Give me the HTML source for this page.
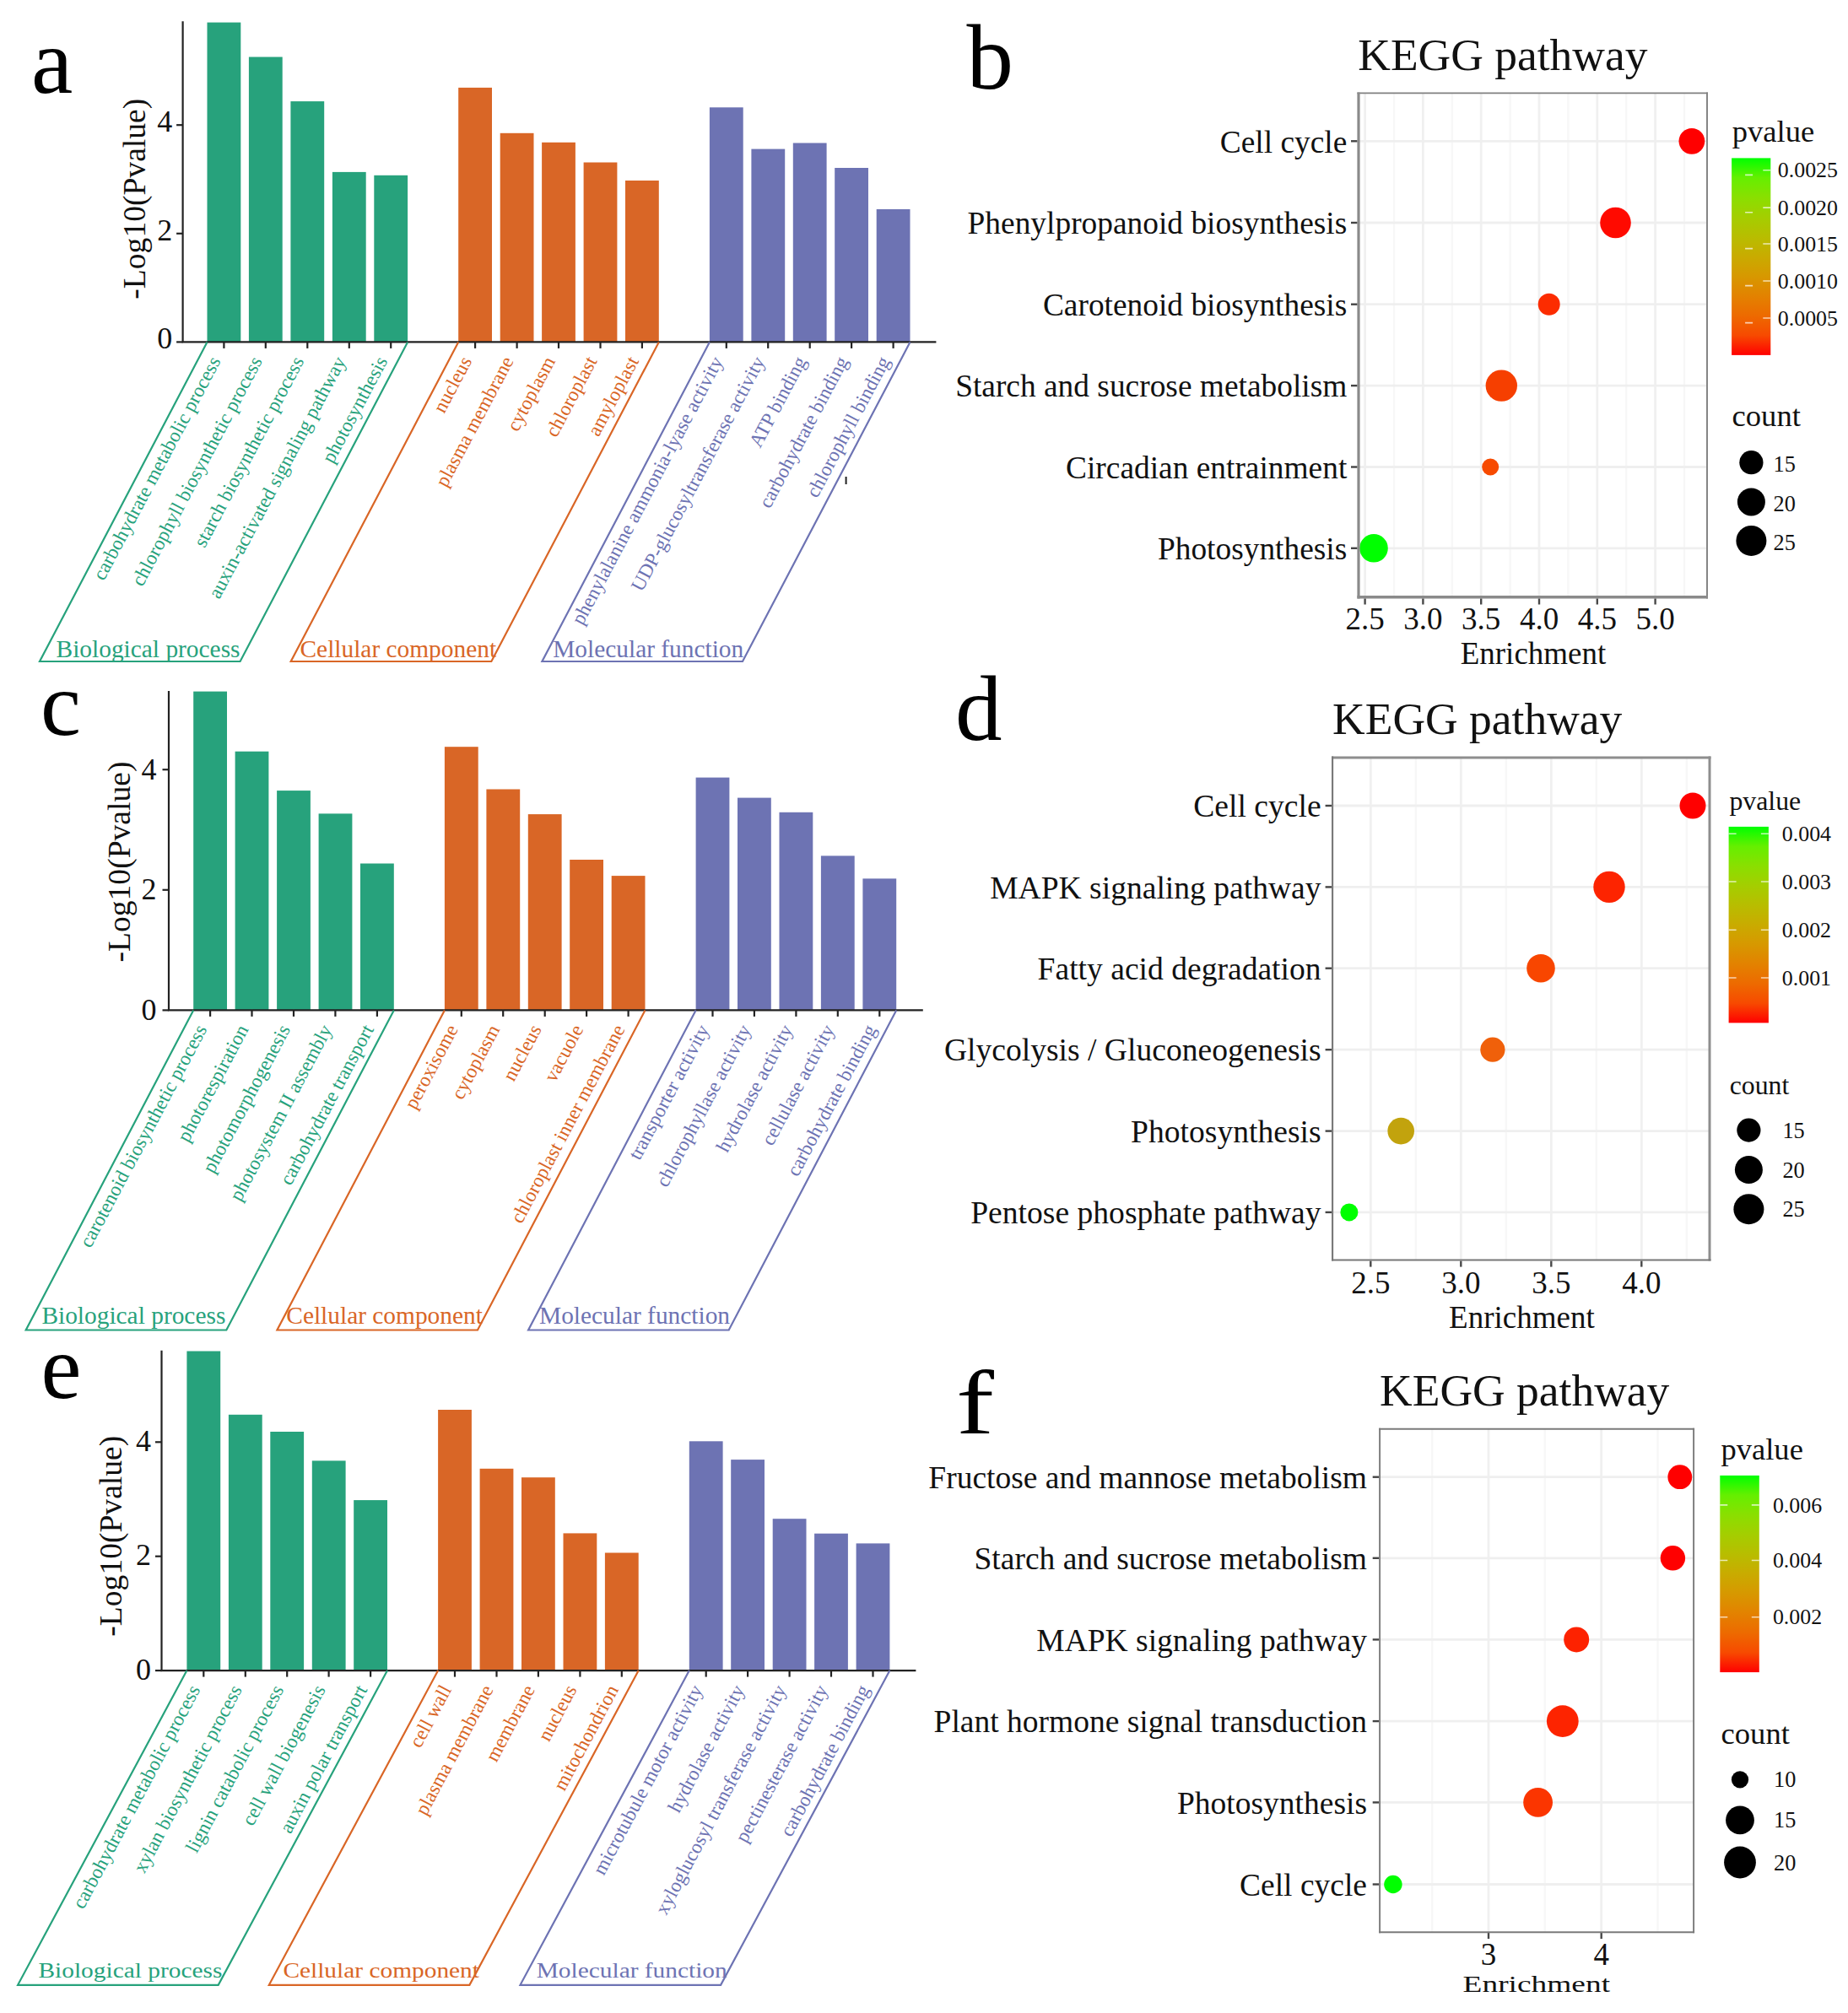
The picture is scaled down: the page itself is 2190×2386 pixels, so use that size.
<!DOCTYPE html>
<html lang="en"><head><meta charset="utf-8"><title>GO and KEGG enrichment</title>
<style>
html,body{margin:0;padding:0;background:#fff}
svg{display:block;font-family:"Liberation Serif",serif}
</style></head><body>
<svg width="2190" height="2386" viewBox="0 0 2190 2386">
<rect width="2190" height="2386" fill="#fff"/>
<g>
<text transform="translate(37 109.8) scale(1 1)" font-size="111">a</text>
<rect x="245.5" y="26.6" width="39.8" height="378.8" fill="#27A27C"/>
<rect x="294.9" y="67.5" width="39.8" height="337.9" fill="#27A27C"/>
<rect x="344.4" y="120.1" width="39.8" height="285.3" fill="#27A27C"/>
<rect x="393.9" y="203.9" width="39.8" height="201.5" fill="#27A27C"/>
<rect x="443.3" y="207.8" width="39.8" height="197.6" fill="#27A27C"/>
<rect x="543.2" y="103.9" width="39.8" height="301.5" fill="#D96626"/>
<rect x="592.7" y="157.8" width="39.8" height="247.6" fill="#D96626"/>
<rect x="642.1" y="168.8" width="39.8" height="236.6" fill="#D96626"/>
<rect x="691.6" y="192.5" width="39.8" height="212.9" fill="#D96626"/>
<rect x="741.0" y="214.0" width="39.8" height="191.4" fill="#D96626"/>
<rect x="840.9" y="127.3" width="39.8" height="278.1" fill="#6D73B3"/>
<rect x="890.4" y="176.6" width="39.8" height="228.8" fill="#6D73B3"/>
<rect x="939.8" y="169.5" width="39.8" height="235.9" fill="#6D73B3"/>
<rect x="989.2" y="199.0" width="39.8" height="206.4" fill="#6D73B3"/>
<rect x="1038.7" y="248.0" width="39.8" height="157.4" fill="#6D73B3"/>
<path d="M216.6 25.3V406.5M215.5 405.4H1109.4" stroke="#222" stroke-width="2.2" fill="none"/>
<path d="M209.1 405.4H216.6" stroke="#222" stroke-width="2.2"/>
<text x="204.2" y="413.3" font-size="36" text-anchor="end" fill="#111">0</text>
<path d="M209.1 276.8H216.6" stroke="#222" stroke-width="2.2"/>
<text x="204.2" y="284.7" font-size="36" text-anchor="end" fill="#111">2</text>
<path d="M209.1 148.2H216.6" stroke="#222" stroke-width="2.2"/>
<text x="204.2" y="156.1" font-size="36" text-anchor="end" fill="#111">4</text>
<text transform="translate(171.5 235.7) rotate(-90)" font-size="37.6" text-anchor="middle" fill="#111">-Log10(Pvalue)</text>
<path d="M245.5 405.4L47.0 784.0H284.6L483.1 405.4" stroke="#27A27C" stroke-width="2.2" fill="none"/>
<path d="M265.4 405.4v7.5" stroke="#222" stroke-width="2.2"/>
<text transform="translate(262.0 427.8) rotate(-62)" font-size="23.4" text-anchor="end" fill="#27A27C">carbohydrate metabolic process</text>
<path d="M314.8 405.4v7.5" stroke="#222" stroke-width="2.2"/>
<text transform="translate(311.4 427.8) rotate(-62)" font-size="23.4" text-anchor="end" fill="#27A27C">chlorophyll biosynthetic process</text>
<path d="M364.3 405.4v7.5" stroke="#222" stroke-width="2.2"/>
<text transform="translate(360.9 427.8) rotate(-62)" font-size="23.4" text-anchor="end" fill="#27A27C">starch biosynthetic process</text>
<path d="M413.8 405.4v7.5" stroke="#222" stroke-width="2.2"/>
<text transform="translate(410.4 427.8) rotate(-62)" font-size="23.4" text-anchor="end" fill="#27A27C">auxin-activated signaling pathway</text>
<path d="M463.2 405.4v7.5" stroke="#222" stroke-width="2.2"/>
<text transform="translate(459.8 427.8) rotate(-62)" font-size="23.4" text-anchor="end" fill="#27A27C">photosynthesis</text>
<text x="66.6" y="778.6" font-size="29.4" fill="#27A27C">Biological process</text>
<path d="M543.2 405.4L344.7 784.0H582.3L780.8 405.4" stroke="#D96626" stroke-width="2.2" fill="none"/>
<path d="M563.1 405.4v7.5" stroke="#222" stroke-width="2.2"/>
<text transform="translate(559.7 427.8) rotate(-62)" font-size="23.4" text-anchor="end" fill="#D96626">nucleus</text>
<path d="M612.6 405.4v7.5" stroke="#222" stroke-width="2.2"/>
<text transform="translate(609.2 427.8) rotate(-62)" font-size="23.4" text-anchor="end" fill="#D96626">plasma membrane</text>
<path d="M662.0 405.4v7.5" stroke="#222" stroke-width="2.2"/>
<text transform="translate(658.6 427.8) rotate(-62)" font-size="23.4" text-anchor="end" fill="#D96626">cytoplasm</text>
<path d="M711.5 405.4v7.5" stroke="#222" stroke-width="2.2"/>
<text transform="translate(708.1 427.8) rotate(-62)" font-size="23.4" text-anchor="end" fill="#D96626">chloroplast</text>
<path d="M760.9 405.4v7.5" stroke="#222" stroke-width="2.2"/>
<text transform="translate(757.5 427.8) rotate(-62)" font-size="23.4" text-anchor="end" fill="#D96626">amyloplast</text>
<text x="355.5" y="778.6" font-size="29.4" fill="#D96626">Cellular component</text>
<path d="M840.9 405.4L642.4 784.0H880.0L1078.5 405.4" stroke="#6D73B3" stroke-width="2.2" fill="none"/>
<path d="M860.8 405.4v7.5" stroke="#222" stroke-width="2.2"/>
<text transform="translate(857.4 427.8) rotate(-62)" font-size="23.4" text-anchor="end" fill="#6D73B3">phenylalanine ammonia-lyase activity</text>
<path d="M910.2 405.4v7.5" stroke="#222" stroke-width="2.2"/>
<text transform="translate(906.9 427.8) rotate(-62)" font-size="23.4" text-anchor="end" fill="#6D73B3">UDP-glucosyltransferase activity</text>
<path d="M959.7 405.4v7.5" stroke="#222" stroke-width="2.2"/>
<text transform="translate(956.3 427.8) rotate(-62)" font-size="23.4" text-anchor="end" fill="#6D73B3">ATP binding</text>
<path d="M1009.1 405.4v7.5" stroke="#222" stroke-width="2.2"/>
<text transform="translate(1005.8 427.8) rotate(-62)" font-size="23.4" text-anchor="end" fill="#6D73B3">carbohydrate binding</text>
<path d="M1058.6 405.4v7.5" stroke="#222" stroke-width="2.2"/>
<text transform="translate(1055.2 427.8) rotate(-62)" font-size="23.4" text-anchor="end" fill="#6D73B3">chlorophyll binding</text>
<text x="655.2" y="778.6" font-size="29.4" fill="#6D73B3">Molecular function</text>
</g>
<g>
<text transform="translate(47.9 870.5) scale(1 1)" font-size="108">c</text>
<rect x="229.2" y="819.6" width="39.8" height="377.8" fill="#27A27C"/>
<rect x="278.6" y="890.7" width="39.8" height="306.7" fill="#27A27C"/>
<rect x="328.1" y="937.1" width="39.8" height="260.3" fill="#27A27C"/>
<rect x="377.6" y="964.4" width="39.8" height="233.0" fill="#27A27C"/>
<rect x="427.0" y="1023.5" width="39.8" height="173.9" fill="#27A27C"/>
<rect x="526.9" y="885.2" width="39.8" height="312.2" fill="#D96626"/>
<rect x="576.4" y="935.5" width="39.8" height="261.9" fill="#D96626"/>
<rect x="625.8" y="965.1" width="39.8" height="232.3" fill="#D96626"/>
<rect x="675.2" y="1019.0" width="39.8" height="178.4" fill="#D96626"/>
<rect x="724.7" y="1038.1" width="39.8" height="159.3" fill="#D96626"/>
<rect x="824.6" y="921.6" width="39.8" height="275.8" fill="#6D73B3"/>
<rect x="874.0" y="945.6" width="39.8" height="251.8" fill="#6D73B3"/>
<rect x="923.5" y="962.8" width="39.8" height="234.6" fill="#6D73B3"/>
<rect x="972.9" y="1014.4" width="39.8" height="183.0" fill="#6D73B3"/>
<rect x="1022.4" y="1041.4" width="39.8" height="156.0" fill="#6D73B3"/>
<path d="M200 819V1198.5M198.9 1197.4H1093.8" stroke="#222" stroke-width="2.2" fill="none"/>
<path d="M192.5 1197.4H200" stroke="#222" stroke-width="2.2"/>
<text x="185.5" y="1208.8" font-size="36" text-anchor="end" fill="#111">0</text>
<path d="M192.5 1054.8H200" stroke="#222" stroke-width="2.2"/>
<text x="185.5" y="1066.2" font-size="36" text-anchor="end" fill="#111">2</text>
<path d="M192.5 912.2H200" stroke="#222" stroke-width="2.2"/>
<text x="185.5" y="923.6" font-size="36" text-anchor="end" fill="#111">4</text>
<text transform="translate(153.9 1021.5) rotate(-90)" font-size="37.6" text-anchor="middle" fill="#111">-Log10(Pvalue)</text>
<path d="M229.2 1197.4L30.7 1576.5H268.3L466.8 1197.4" stroke="#27A27C" stroke-width="2.2" fill="none"/>
<path d="M249.1 1197.4v7.5" stroke="#222" stroke-width="2.2"/>
<text transform="translate(245.7 1219.8) rotate(-62)" font-size="23.4" text-anchor="end" fill="#27A27C">carotenoid biosynthetic process</text>
<path d="M298.5 1197.4v7.5" stroke="#222" stroke-width="2.2"/>
<text transform="translate(295.1 1219.8) rotate(-62)" font-size="23.4" text-anchor="end" fill="#27A27C">photorespiration</text>
<path d="M348.0 1197.4v7.5" stroke="#222" stroke-width="2.2"/>
<text transform="translate(344.6 1219.8) rotate(-62)" font-size="23.4" text-anchor="end" fill="#27A27C">photomorphogenesis</text>
<path d="M397.4 1197.4v7.5" stroke="#222" stroke-width="2.2"/>
<text transform="translate(394.1 1219.8) rotate(-62)" font-size="23.4" text-anchor="end" fill="#27A27C">photosystem II assembly</text>
<path d="M446.9 1197.4v7.5" stroke="#222" stroke-width="2.2"/>
<text transform="translate(443.5 1219.8) rotate(-62)" font-size="23.4" text-anchor="end" fill="#27A27C">carbohydrate transport</text>
<text x="49.4" y="1568.6" font-size="29.4" fill="#27A27C">Biological process</text>
<path d="M526.9 1197.4L328.4 1576.5H566.0L764.5 1197.4" stroke="#D96626" stroke-width="2.2" fill="none"/>
<path d="M546.8 1197.4v7.5" stroke="#222" stroke-width="2.2"/>
<text transform="translate(543.4 1219.8) rotate(-62)" font-size="23.4" text-anchor="end" fill="#D96626">peroxisome</text>
<path d="M596.2 1197.4v7.5" stroke="#222" stroke-width="2.2"/>
<text transform="translate(592.9 1219.8) rotate(-62)" font-size="23.4" text-anchor="end" fill="#D96626">cytoplasm</text>
<path d="M645.7 1197.4v7.5" stroke="#222" stroke-width="2.2"/>
<text transform="translate(642.3 1219.8) rotate(-62)" font-size="23.4" text-anchor="end" fill="#D96626">nucleus</text>
<path d="M695.1 1197.4v7.5" stroke="#222" stroke-width="2.2"/>
<text transform="translate(691.8 1219.8) rotate(-62)" font-size="23.4" text-anchor="end" fill="#D96626">vacuole</text>
<path d="M744.6 1197.4v7.5" stroke="#222" stroke-width="2.2"/>
<text transform="translate(741.2 1219.8) rotate(-62)" font-size="23.4" text-anchor="end" fill="#D96626">chloroplast inner membrane</text>
<text x="339.3" y="1568.6" font-size="29.4" fill="#D96626">Cellular component</text>
<path d="M824.6 1197.4L626.1 1576.5H863.7L1062.2 1197.4" stroke="#6D73B3" stroke-width="2.2" fill="none"/>
<path d="M844.5 1197.4v7.5" stroke="#222" stroke-width="2.2"/>
<text transform="translate(841.1 1219.8) rotate(-62)" font-size="23.4" text-anchor="end" fill="#6D73B3">transporter activity</text>
<path d="M893.9 1197.4v7.5" stroke="#222" stroke-width="2.2"/>
<text transform="translate(890.5 1219.8) rotate(-62)" font-size="23.4" text-anchor="end" fill="#6D73B3">chlorophyllase activity</text>
<path d="M943.4 1197.4v7.5" stroke="#222" stroke-width="2.2"/>
<text transform="translate(940.0 1219.8) rotate(-62)" font-size="23.4" text-anchor="end" fill="#6D73B3">hydrolase activity</text>
<path d="M992.8 1197.4v7.5" stroke="#222" stroke-width="2.2"/>
<text transform="translate(989.4 1219.8) rotate(-62)" font-size="23.4" text-anchor="end" fill="#6D73B3">cellulase activity</text>
<path d="M1042.3 1197.4v7.5" stroke="#222" stroke-width="2.2"/>
<text transform="translate(1038.9 1219.8) rotate(-62)" font-size="23.4" text-anchor="end" fill="#6D73B3">carbohydrate binding</text>
<text x="639" y="1568.6" font-size="29.4" fill="#6D73B3">Molecular function</text>
</g>
<g>
<text transform="translate(48.5 1656.7) scale(1 1)" font-size="108">e</text>
<rect x="221.4" y="1601.5" width="39.8" height="378.6" fill="#27A27C"/>
<rect x="270.9" y="1676.8" width="39.8" height="303.3" fill="#27A27C"/>
<rect x="320.3" y="1697.0" width="39.8" height="283.1" fill="#27A27C"/>
<rect x="369.8" y="1731.4" width="39.8" height="248.7" fill="#27A27C"/>
<rect x="419.2" y="1778.1" width="39.8" height="202.0" fill="#27A27C"/>
<rect x="519.1" y="1671.0" width="39.8" height="309.1" fill="#D96626"/>
<rect x="568.6" y="1740.8" width="39.8" height="239.3" fill="#D96626"/>
<rect x="618.0" y="1751.2" width="39.8" height="228.9" fill="#D96626"/>
<rect x="667.5" y="1817.4" width="39.8" height="162.7" fill="#D96626"/>
<rect x="716.9" y="1840.5" width="39.8" height="139.6" fill="#D96626"/>
<rect x="816.8" y="1708.3" width="39.8" height="271.8" fill="#6D73B3"/>
<rect x="866.2" y="1730.1" width="39.8" height="250.0" fill="#6D73B3"/>
<rect x="915.7" y="1800.2" width="39.8" height="179.9" fill="#6D73B3"/>
<rect x="965.1" y="1817.7" width="39.8" height="162.4" fill="#6D73B3"/>
<rect x="1014.6" y="1829.4" width="39.8" height="150.7" fill="#6D73B3"/>
<path d="M191.5 1600.8V1981.1999999999998M190.4 1980.1H1085.4" stroke="#222" stroke-width="2.2" fill="none"/>
<path d="M184.0 1980.1H191.5" stroke="#222" stroke-width="2.2"/>
<text x="179.1" y="1990.5" font-size="36" text-anchor="end" fill="#111">0</text>
<path d="M184.0 1844.7H191.5" stroke="#222" stroke-width="2.2"/>
<text x="179.1" y="1855.1" font-size="36" text-anchor="end" fill="#111">2</text>
<path d="M184.0 1709.3H191.5" stroke="#222" stroke-width="2.2"/>
<text x="179.1" y="1719.7" font-size="36" text-anchor="end" fill="#111">4</text>
<text transform="translate(144.2 1820.7) rotate(-90)" font-size="37.6" text-anchor="middle" fill="#111">-Log10(Pvalue)</text>
<path d="M221.4 1980.1L21.1 2352.8H258.7L459.0 1980.1" stroke="#27A27C" stroke-width="2.2" fill="none"/>
<path d="M241.3 1980.1v7.5" stroke="#222" stroke-width="2.2"/>
<text transform="translate(237.9 2002.5) rotate(-62)" font-size="23.4" text-anchor="end" fill="#27A27C">carbohydrate metabolic process</text>
<path d="M290.8 1980.1v7.5" stroke="#222" stroke-width="2.2"/>
<text transform="translate(287.4 2002.5) rotate(-62)" font-size="23.4" text-anchor="end" fill="#27A27C">xylan biosynthetic process</text>
<path d="M340.2 1980.1v7.5" stroke="#222" stroke-width="2.2"/>
<text transform="translate(336.8 2002.5) rotate(-62)" font-size="23.4" text-anchor="end" fill="#27A27C">lignin catabolic process</text>
<path d="M389.6 1980.1v7.5" stroke="#222" stroke-width="2.2"/>
<text transform="translate(386.2 2002.5) rotate(-62)" font-size="23.4" text-anchor="end" fill="#27A27C">cell wall biogenesis</text>
<path d="M439.1 1980.1v7.5" stroke="#222" stroke-width="2.2"/>
<text transform="translate(435.7 2002.5) rotate(-62)" font-size="23.4" text-anchor="end" fill="#27A27C">auxin polar transport</text>
<text transform="translate(45.5 2344.2) scale(1 0.86)" font-size="29.4" fill="#27A27C">Biological process</text>
<path d="M519.1 1980.1L318.8 2352.8H556.4L756.7 1980.1" stroke="#D96626" stroke-width="2.2" fill="none"/>
<path d="M539.0 1980.1v7.5" stroke="#222" stroke-width="2.2"/>
<text transform="translate(535.6 2002.5) rotate(-62)" font-size="23.4" text-anchor="end" fill="#D96626">cell wall</text>
<path d="M588.5 1980.1v7.5" stroke="#222" stroke-width="2.2"/>
<text transform="translate(585.1 2002.5) rotate(-62)" font-size="23.4" text-anchor="end" fill="#D96626">plasma membrane</text>
<path d="M637.9 1980.1v7.5" stroke="#222" stroke-width="2.2"/>
<text transform="translate(634.5 2002.5) rotate(-62)" font-size="23.4" text-anchor="end" fill="#D96626">membrane</text>
<path d="M687.4 1980.1v7.5" stroke="#222" stroke-width="2.2"/>
<text transform="translate(684.0 2002.5) rotate(-62)" font-size="23.4" text-anchor="end" fill="#D96626">nucleus</text>
<path d="M736.8 1980.1v7.5" stroke="#222" stroke-width="2.2"/>
<text transform="translate(733.4 2002.5) rotate(-62)" font-size="23.4" text-anchor="end" fill="#D96626">mitochondrion</text>
<text transform="translate(335.4 2344.2) scale(1 0.86)" font-size="29.4" fill="#D96626">Cellular component</text>
<path d="M816.8 1980.1L616.5 2352.8H854.1L1054.4 1980.1" stroke="#6D73B3" stroke-width="2.2" fill="none"/>
<path d="M836.7 1980.1v7.5" stroke="#222" stroke-width="2.2"/>
<text transform="translate(833.3 2002.5) rotate(-62)" font-size="23.4" text-anchor="end" fill="#6D73B3">microtubule motor activity</text>
<path d="M886.1 1980.1v7.5" stroke="#222" stroke-width="2.2"/>
<text transform="translate(882.8 2002.5) rotate(-62)" font-size="23.4" text-anchor="end" fill="#6D73B3">hydrolase activity</text>
<path d="M935.6 1980.1v7.5" stroke="#222" stroke-width="2.2"/>
<text transform="translate(932.2 2002.5) rotate(-62)" font-size="23.4" text-anchor="end" fill="#6D73B3">xyloglucosyl transferase activity</text>
<path d="M985.0 1980.1v7.5" stroke="#222" stroke-width="2.2"/>
<text transform="translate(981.6 2002.5) rotate(-62)" font-size="23.4" text-anchor="end" fill="#6D73B3">pectinesterase activity</text>
<path d="M1034.5 1980.1v7.5" stroke="#222" stroke-width="2.2"/>
<text transform="translate(1031.1 2002.5) rotate(-62)" font-size="23.4" text-anchor="end" fill="#6D73B3">carbohydrate binding</text>
<text transform="translate(635.7 2344.2) scale(1 0.86)" font-size="29.4" fill="#6D73B3">Molecular function</text>
</g>
<g>
<text transform="translate(1145.5 104.8) scale(1 1)" font-size="111">b</text>
<text x="1609.3" y="82.9" font-size="53.5" fill="#111">KEGG pathway</text>
<path d="M1652.0 110.4V707.7" stroke="#F7F7F7" stroke-width="2.4"/>
<path d="M1720.8 110.4V707.7" stroke="#F7F7F7" stroke-width="2.4"/>
<path d="M1789.6 110.4V707.7" stroke="#F7F7F7" stroke-width="2.4"/>
<path d="M1858.4 110.4V707.7" stroke="#F7F7F7" stroke-width="2.4"/>
<path d="M1927.2 110.4V707.7" stroke="#F7F7F7" stroke-width="2.4"/>
<path d="M1996.0 110.4V707.7" stroke="#F7F7F7" stroke-width="2.4"/>
<path d="M1617.6 110.4V707.7" stroke="#F0F0F0" stroke-width="2.8"/>
<path d="M1686.4 110.4V707.7" stroke="#F0F0F0" stroke-width="2.8"/>
<path d="M1755.2 110.4V707.7" stroke="#F0F0F0" stroke-width="2.8"/>
<path d="M1824.0 110.4V707.7" stroke="#F0F0F0" stroke-width="2.8"/>
<path d="M1892.8 110.4V707.7" stroke="#F0F0F0" stroke-width="2.8"/>
<path d="M1961.6 110.4V707.7" stroke="#F0F0F0" stroke-width="2.8"/>
<path d="M1610.0 167.3H2023.0" stroke="#EFEFEF" stroke-width="2.8"/>
<path d="M1610.0 264.0H2023.0" stroke="#EFEFEF" stroke-width="2.8"/>
<path d="M1610.0 360.7H2023.0" stroke="#EFEFEF" stroke-width="2.8"/>
<path d="M1610.0 457.1H2023.0" stroke="#EFEFEF" stroke-width="2.8"/>
<path d="M1610.0 553.5H2023.0" stroke="#EFEFEF" stroke-width="2.8"/>
<path d="M1610.0 649.8H2023.0" stroke="#EFEFEF" stroke-width="2.8"/>
<circle cx="2004.9" cy="167.3" r="15.4" fill="#FF0000"/>
<circle cx="1914.5" cy="264.0" r="18.3" fill="#FF0A00"/>
<circle cx="1835.7" cy="360.7" r="13" fill="#FC2C00"/>
<circle cx="1779.3" cy="457.1" r="18.7" fill="#F63F00"/>
<circle cx="1766.2" cy="553.5" r="10" fill="#F74A00"/>
<circle cx="1628.0" cy="649.8" r="16.8" fill="#00FF00"/>
<path d="M1608.40 110.4H2023.95" stroke="#808080" stroke-width="1.9"/>
<path d="M2023.0 109.45V709.50" stroke="#808080" stroke-width="1.9"/>
<path d="M1608.40 707.7H2023.95" stroke="#8A8A8A" stroke-width="3.6"/>
<path d="M1610.0 109.45V709.50" stroke="#8A8A8A" stroke-width="3.2"/>
<path d="M1601.0 167.3H1608.4" stroke="#444" stroke-width="2.4"/>
<text x="1596.3" y="180.5" font-size="37.4" text-anchor="end" fill="#111">Cell cycle</text>
<path d="M1601.0 264.0H1608.4" stroke="#444" stroke-width="2.4"/>
<text x="1596.3" y="277.2" font-size="37.4" text-anchor="end" fill="#111">Phenylpropanoid biosynthesis</text>
<path d="M1601.0 360.7H1608.4" stroke="#444" stroke-width="2.4"/>
<text x="1596.3" y="373.9" font-size="37.4" text-anchor="end" fill="#111">Carotenoid biosynthesis</text>
<path d="M1601.0 457.1H1608.4" stroke="#444" stroke-width="2.4"/>
<text x="1596.3" y="470.3" font-size="37.4" text-anchor="end" fill="#111">Starch and sucrose metabolism</text>
<path d="M1601.0 553.5H1608.4" stroke="#444" stroke-width="2.4"/>
<text x="1596.3" y="566.7" font-size="37.4" text-anchor="end" fill="#111">Circadian entrainment</text>
<path d="M1601.0 649.8H1608.4" stroke="#444" stroke-width="2.4"/>
<text x="1596.3" y="663.0" font-size="37.4" text-anchor="end" fill="#111">Photosynthesis</text>
<path d="M1617.6 709.5v7" stroke="#484848" stroke-width="2.4"/>
<text x="1617.6" y="746.3" font-size="37" text-anchor="middle" fill="#111">2.5</text>
<path d="M1686.4 709.5v7" stroke="#484848" stroke-width="2.4"/>
<text x="1686.4" y="746.3" font-size="37" text-anchor="middle" fill="#111">3.0</text>
<path d="M1755.2 709.5v7" stroke="#484848" stroke-width="2.4"/>
<text x="1755.2" y="746.3" font-size="37" text-anchor="middle" fill="#111">3.5</text>
<path d="M1824.0 709.5v7" stroke="#484848" stroke-width="2.4"/>
<text x="1824.0" y="746.3" font-size="37" text-anchor="middle" fill="#111">4.0</text>
<path d="M1892.8 709.5v7" stroke="#484848" stroke-width="2.4"/>
<text x="1892.8" y="746.3" font-size="37" text-anchor="middle" fill="#111">4.5</text>
<path d="M1961.6 709.5v7" stroke="#484848" stroke-width="2.4"/>
<text x="1961.6" y="746.3" font-size="37" text-anchor="middle" fill="#111">5.0</text>
<text x="1817" y="786.5" font-size="37" text-anchor="middle" fill="#111">Enrichment</text>
<text x="2052.7" y="167.6" font-size="36.6" fill="#111">pvalue</text>
<linearGradient id="gb" x1="0" y1="0" x2="0" y2="1"><stop offset="0.0" stop-color="#00FF00"/><stop offset="0.1" stop-color="#65EF00"/><stop offset="0.2" stop-color="#8ADF00"/><stop offset="0.3" stop-color="#A4CE00"/><stop offset="0.4" stop-color="#B8BD00"/><stop offset="0.5" stop-color="#C9AB00"/><stop offset="0.6" stop-color="#D79800"/><stop offset="0.7" stop-color="#E38200"/><stop offset="0.8" stop-color="#ED6A00"/><stop offset="0.9" stop-color="#F74A00"/><stop offset="1.0" stop-color="#FF0000"/></linearGradient>
<rect x="2052.1" y="187.4" width="46.2" height="233.5" fill="url(#gb)"/>
<path d="M2068.1 207.4h9M2098.3 201.8h-9" stroke="#fff" stroke-opacity=".7" stroke-width="1.6"/>
<text x="2106.8" y="210.4" font-size="25.9" fill="#111">0.0025</text>
<path d="M2068.1 251.7h9M2098.3 246.1h-9" stroke="#fff" stroke-opacity=".7" stroke-width="1.6"/>
<text x="2106.8" y="254.7" font-size="25.9" fill="#111">0.0020</text>
<path d="M2068.1 294.6h9M2098.3 289h-9" stroke="#fff" stroke-opacity=".7" stroke-width="1.6"/>
<text x="2106.8" y="297.6" font-size="25.9" fill="#111">0.0015</text>
<path d="M2068.1 338.6h9M2098.3 333h-9" stroke="#fff" stroke-opacity=".7" stroke-width="1.6"/>
<text x="2106.8" y="341.6" font-size="25.9" fill="#111">0.0010</text>
<path d="M2068.1 382.6h9M2098.3 377h-9" stroke="#fff" stroke-opacity=".7" stroke-width="1.6"/>
<text x="2106.8" y="385.6" font-size="25.9" fill="#111">0.0005</text>
<text x="2052.6" y="505.3" font-size="36.6" fill="#111">count</text>
<circle cx="2075.4" cy="548.2" r="14.1" fill="#000"/>
<text x="2101.6" y="559.0" font-size="26.3" fill="#111">15</text>
<circle cx="2075.4" cy="594.9" r="16.5" fill="#000"/>
<text x="2101.6" y="605.7" font-size="26.3" fill="#111">20</text>
<circle cx="2075.4" cy="640.9" r="18.0" fill="#000"/>
<text x="2101.6" y="651.7" font-size="26.3" fill="#111">25</text>
</g>
<g>
<text transform="translate(1132 877) scale(1 1)" font-size="111">d</text>
<text x="1579.1" y="870.4" font-size="53.5" fill="#111">KEGG pathway</text>
<path d="M1677.8 898.0V1493.6" stroke="#F7F7F7" stroke-width="2.4"/>
<path d="M1784.8 898.0V1493.6" stroke="#F7F7F7" stroke-width="2.4"/>
<path d="M1891.8 898.0V1493.6" stroke="#F7F7F7" stroke-width="2.4"/>
<path d="M1998.8 898.0V1493.6" stroke="#F7F7F7" stroke-width="2.4"/>
<path d="M1624.3 898.0V1493.6" stroke="#F0F0F0" stroke-width="2.8"/>
<path d="M1731.3 898.0V1493.6" stroke="#F0F0F0" stroke-width="2.8"/>
<path d="M1838.3 898.0V1493.6" stroke="#F0F0F0" stroke-width="2.8"/>
<path d="M1945.3 898.0V1493.6" stroke="#F0F0F0" stroke-width="2.8"/>
<path d="M1579.1 955.0H2026.0" stroke="#EFEFEF" stroke-width="2.8"/>
<path d="M1579.1 1051.4H2026.0" stroke="#EFEFEF" stroke-width="2.8"/>
<path d="M1579.1 1147.7H2026.0" stroke="#EFEFEF" stroke-width="2.8"/>
<path d="M1579.1 1244.2H2026.0" stroke="#EFEFEF" stroke-width="2.8"/>
<path d="M1579.1 1340.6H2026.0" stroke="#EFEFEF" stroke-width="2.8"/>
<path d="M1579.1 1436.9H2026.0" stroke="#EFEFEF" stroke-width="2.8"/>
<circle cx="2006.0" cy="955.0" r="15.5" fill="#FF0000"/>
<circle cx="1907.0" cy="1051.4" r="18.7" fill="#FD2400"/>
<circle cx="1826.0" cy="1147.7" r="16.8" fill="#F84600"/>
<circle cx="1768.9" cy="1244.2" r="14.6" fill="#F0600A"/>
<circle cx="1660.2" cy="1340.6" r="15.8" fill="#C2A30D"/>
<circle cx="1598.9" cy="1436.9" r="10.5" fill="#00FF00"/>
<path d="M1578.05 898.0H2027.50" stroke="#8E8E8E" stroke-width="3.0"/>
<path d="M2026.0 896.50V1494.60" stroke="#8E8E8E" stroke-width="3.0"/>
<path d="M1578.05 1493.6H2027.50" stroke="#777777" stroke-width="2.0"/>
<path d="M1579.1 896.50V1494.60" stroke="#777777" stroke-width="2.1"/>
<path d="M1570.6 955.0H1578.0" stroke="#444" stroke-width="2.4"/>
<text x="1565.6" y="968.2" font-size="37.6" text-anchor="end" fill="#111">Cell cycle</text>
<path d="M1570.6 1051.4H1578.0" stroke="#444" stroke-width="2.4"/>
<text x="1565.6" y="1064.6" font-size="37.6" text-anchor="end" fill="#111">MAPK signaling pathway</text>
<path d="M1570.6 1147.7H1578.0" stroke="#444" stroke-width="2.4"/>
<text x="1565.6" y="1160.9" font-size="37.6" text-anchor="end" fill="#111">Fatty acid degradation</text>
<path d="M1570.6 1244.2H1578.0" stroke="#444" stroke-width="2.4"/>
<text x="1565.6" y="1257.4" font-size="37.6" text-anchor="end" fill="#111">Glycolysis / Gluconeogenesis</text>
<path d="M1570.6 1340.6H1578.0" stroke="#444" stroke-width="2.4"/>
<text x="1565.6" y="1353.8" font-size="37.6" text-anchor="end" fill="#111">Photosynthesis</text>
<path d="M1570.6 1436.9H1578.0" stroke="#444" stroke-width="2.4"/>
<text x="1565.6" y="1450.1" font-size="37.6" text-anchor="end" fill="#111">Pentose phosphate pathway</text>
<path d="M1624.3 1494.6v7" stroke="#484848" stroke-width="2.4"/>
<text x="1624.3" y="1532.7" font-size="37" text-anchor="middle" fill="#111">2.5</text>
<path d="M1731.3 1494.6v7" stroke="#484848" stroke-width="2.4"/>
<text x="1731.3" y="1532.7" font-size="37" text-anchor="middle" fill="#111">3.0</text>
<path d="M1838.3 1494.6v7" stroke="#484848" stroke-width="2.4"/>
<text x="1838.3" y="1532.7" font-size="37" text-anchor="middle" fill="#111">3.5</text>
<path d="M1945.3 1494.6v7" stroke="#484848" stroke-width="2.4"/>
<text x="1945.3" y="1532.7" font-size="37" text-anchor="middle" fill="#111">4.0</text>
<text x="1803.4" y="1574" font-size="37" text-anchor="middle" fill="#111">Enrichment</text>
<text x="2049.4" y="960.3" font-size="31.8" fill="#111">pvalue</text>
<linearGradient id="gd" x1="0" y1="0" x2="0" y2="1"><stop offset="0.0" stop-color="#00FF00"/><stop offset="0.1" stop-color="#65EF00"/><stop offset="0.2" stop-color="#8ADF00"/><stop offset="0.3" stop-color="#A4CE00"/><stop offset="0.4" stop-color="#B8BD00"/><stop offset="0.5" stop-color="#C9AB00"/><stop offset="0.6" stop-color="#D79800"/><stop offset="0.7" stop-color="#E38200"/><stop offset="0.8" stop-color="#ED6A00"/><stop offset="0.9" stop-color="#F74A00"/><stop offset="1.0" stop-color="#FF0000"/></linearGradient>
<rect x="2048.6" y="979.9" width="47.3" height="232.5" fill="url(#gd)"/>
<path d="M2048.6 988.2h9M2095.9 988.2h-9" stroke="#fff" stroke-opacity=".7" stroke-width="1.6"/>
<text x="2111.8" y="996.8" font-size="25.9" fill="#111">0.004</text>
<path d="M2048.6 1045.0h9M2095.9 1045h-9" stroke="#fff" stroke-opacity=".7" stroke-width="1.6"/>
<text x="2111.8" y="1053.6" font-size="25.9" fill="#111">0.003</text>
<path d="M2048.6 1102.2h9M2095.9 1102.2h-9" stroke="#fff" stroke-opacity=".7" stroke-width="1.6"/>
<text x="2111.8" y="1110.8" font-size="25.9" fill="#111">0.002</text>
<path d="M2048.6 1159.0h9M2095.9 1159h-9" stroke="#fff" stroke-opacity=".7" stroke-width="1.6"/>
<text x="2111.8" y="1167.6" font-size="25.9" fill="#111">0.001</text>
<text x="2049.7" y="1296.9" font-size="31.8" fill="#111">count</text>
<circle cx="2072.4" cy="1339.6" r="14.1" fill="#000"/>
<text x="2112.4" y="1348.6" font-size="26.3" fill="#111">15</text>
<circle cx="2072.4" cy="1386.5" r="16.5" fill="#000"/>
<text x="2112.4" y="1395.5" font-size="26.3" fill="#111">20</text>
<circle cx="2072.4" cy="1433.2" r="18.0" fill="#000"/>
<text x="2112.4" y="1442.2" font-size="26.3" fill="#111">25</text>
</g>
<g>
<text transform="translate(1133 1698.7) scale(1.25 1)" font-size="108">f</text>
<text x="1635.1" y="1666.3" font-size="53.5" fill="#111">KEGG pathway</text>
<path d="M1697.2 1693.8V2290.2" stroke="#F7F7F7" stroke-width="2.4"/>
<path d="M1830.8 1693.8V2290.2" stroke="#F7F7F7" stroke-width="2.4"/>
<path d="M1964.5 1693.8V2290.2" stroke="#F7F7F7" stroke-width="2.4"/>
<path d="M1764.0 1693.8V2290.2" stroke="#F0F0F0" stroke-width="2.8"/>
<path d="M1897.7 1693.8V2290.2" stroke="#F0F0F0" stroke-width="2.8"/>
<path d="M1635.1 1750.7H2007.1" stroke="#EFEFEF" stroke-width="2.8"/>
<path d="M1635.1 1846.8H2007.1" stroke="#EFEFEF" stroke-width="2.8"/>
<path d="M1635.1 1943.4H2007.1" stroke="#EFEFEF" stroke-width="2.8"/>
<path d="M1635.1 2040.1H2007.1" stroke="#EFEFEF" stroke-width="2.8"/>
<path d="M1635.1 2136.4H2007.1" stroke="#EFEFEF" stroke-width="2.8"/>
<path d="M1635.1 2233.5H2007.1" stroke="#EFEFEF" stroke-width="2.8"/>
<circle cx="1990.8" cy="1750.7" r="14.4" fill="#FF0000"/>
<circle cx="1982.4" cy="1846.8" r="14.7" fill="#FF0000"/>
<circle cx="1868.2" cy="1943.4" r="15" fill="#FD2200"/>
<circle cx="1851.8" cy="2040.1" r="18.9" fill="#FD2400"/>
<circle cx="1822.6" cy="2136.4" r="17.4" fill="#FB3500"/>
<circle cx="1650.9" cy="2233.5" r="10.7" fill="#00FF00"/>
<path d="M1634.15 1693.8H2008.05" stroke="#7A7A7A" stroke-width="1.9"/>
<path d="M2007.1 1692.85V2291.15" stroke="#7A7A7A" stroke-width="1.9"/>
<path d="M1634.15 2290.2H2008.05" stroke="#7A7A7A" stroke-width="1.9"/>
<path d="M1635.1 1692.85V2291.15" stroke="#7A7A7A" stroke-width="1.9"/>
<path d="M1626.7 1750.7H1634.1" stroke="#444" stroke-width="2.4"/>
<text x="1620.0" y="1763.9" font-size="37.5" text-anchor="end" fill="#111">Fructose and mannose metabolism</text>
<path d="M1626.7 1846.8H1634.1" stroke="#444" stroke-width="2.4"/>
<text x="1620.0" y="1860.0" font-size="37.5" text-anchor="end" fill="#111">Starch and sucrose metabolism</text>
<path d="M1626.7 1943.4H1634.1" stroke="#444" stroke-width="2.4"/>
<text x="1620.0" y="1956.6" font-size="37.5" text-anchor="end" fill="#111">MAPK signaling pathway</text>
<path d="M1626.7 2040.1H1634.1" stroke="#444" stroke-width="2.4"/>
<text x="1620.0" y="2053.3" font-size="37.5" text-anchor="end" fill="#111">Plant hormone signal transduction</text>
<path d="M1626.7 2136.4H1634.1" stroke="#444" stroke-width="2.4"/>
<text x="1620.0" y="2149.6" font-size="37.5" text-anchor="end" fill="#111">Photosynthesis</text>
<path d="M1626.7 2233.5H1634.1" stroke="#444" stroke-width="2.4"/>
<text x="1620.0" y="2246.7" font-size="37.5" text-anchor="end" fill="#111">Cell cycle</text>
<path d="M1764.0 2291.1v7" stroke="#484848" stroke-width="2.4"/>
<text x="1764.0" y="2329.3" font-size="37" text-anchor="middle" fill="#111">3</text>
<path d="M1897.7 2291.1v7" stroke="#484848" stroke-width="2.4"/>
<text x="1897.7" y="2329.3" font-size="37" text-anchor="middle" fill="#111">4</text>
<text transform="translate(1820.8 2361.0) scale(1 0.75)" font-size="37.4" text-anchor="middle" fill="#111">Enrichment</text>
<text x="2039.4" y="1729.8" font-size="36.6" fill="#111">pvalue</text>
<linearGradient id="gf" x1="0" y1="0" x2="0" y2="1"><stop offset="0.0" stop-color="#00FF00"/><stop offset="0.1" stop-color="#65EF00"/><stop offset="0.2" stop-color="#8ADF00"/><stop offset="0.3" stop-color="#A4CE00"/><stop offset="0.4" stop-color="#B8BD00"/><stop offset="0.5" stop-color="#C9AB00"/><stop offset="0.6" stop-color="#D79800"/><stop offset="0.7" stop-color="#E38200"/><stop offset="0.8" stop-color="#ED6A00"/><stop offset="0.9" stop-color="#F74A00"/><stop offset="1.0" stop-color="#FF0000"/></linearGradient>
<rect x="2038.3" y="1748.9" width="46.5" height="233.2" fill="url(#gf)"/>
<path d="M2038.3 1783.9h9M2084.8 1783.9h-9" stroke="#fff" stroke-opacity=".7" stroke-width="1.6"/>
<text x="2100.9" y="1792.5" font-size="25.9" fill="#111">0.006</text>
<path d="M2038.3 1849.5h9M2084.8 1849.5h-9" stroke="#fff" stroke-opacity=".7" stroke-width="1.6"/>
<text x="2100.9" y="1858.1" font-size="25.9" fill="#111">0.004</text>
<path d="M2038.3 1916.8h9M2084.8 1916.8h-9" stroke="#fff" stroke-opacity=".7" stroke-width="1.6"/>
<text x="2100.9" y="1925.4" font-size="25.9" fill="#111">0.002</text>
<text x="2039.6" y="2067.2" font-size="36.6" fill="#111">count</text>
<circle cx="2062" cy="2109.4" r="10.1" fill="#000"/>
<text x="2102" y="2118.4" font-size="26.3" fill="#111">10</text>
<circle cx="2062" cy="2157.4" r="16.9" fill="#000"/>
<text x="2102" y="2166.4" font-size="26.3" fill="#111">15</text>
<circle cx="2062" cy="2207.5" r="18.9" fill="#000"/>
<text x="2102" y="2216.5" font-size="26.3" fill="#111">20</text>
</g>
<path d="M1002.6 565v9" stroke="#222" stroke-width="2"/>
</svg>
</body></html>
